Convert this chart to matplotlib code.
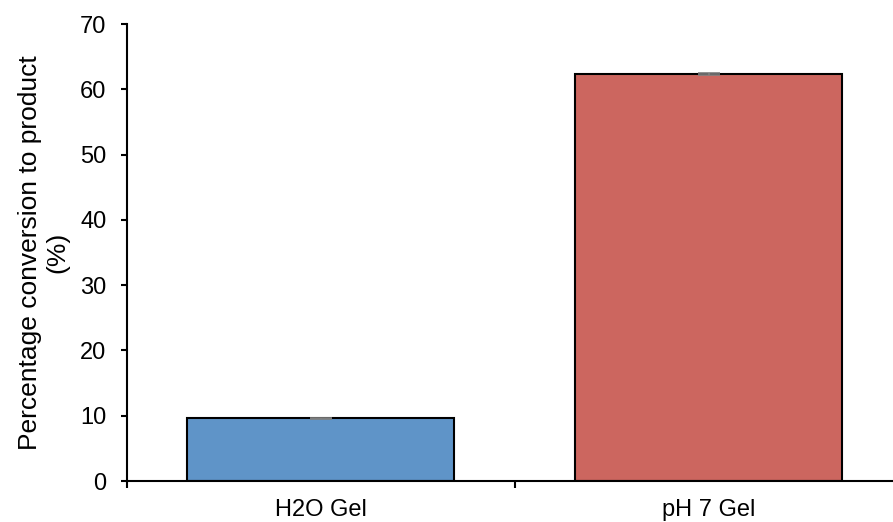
import matplotlib
matplotlib.use("Agg")
import matplotlib.pyplot as plt

categories = ["H2O Gel", "pH 7 Gel"]
conversion = [9.6, 62.3]
errors = [0.05, 0.15]
bar_colors = ["#5F94C8", "#CC665F"]

plt.rcParams["font.family"] = ["Liberation Sans", "DejaVu Sans"]

fig = plt.figure(figsize=(8.93, 5.22), dpi=100)
ax = fig.add_axes([126.5 / 893, 41 / 522, 776 / 893, 457 / 522])

x = range(len(categories))
ax.bar(x, conversion, width=0.69, color=bar_colors, edgecolor="black",
       linewidth=1.5, zorder=2)
ax.errorbar(x, conversion, yerr=errors, fmt="none", ecolor="#808080",
            elinewidth=1.2, capsize=8, capthick=1.2, zorder=3)

ax.set_xlim(-0.5, 1.5)
ax.set_ylim(0, 70)
ax.set_yticks(range(0, 71, 10))
ax.tick_params(axis="y", labelsize=17, length=4.5, width=1.5, direction="out", pad=10)

ax.set_xticks([-0.5, 0.5, 1.5])
ax.set_xticklabels([])
ax.tick_params(axis="x", length=5, width=1.5, direction="out")
ax.set_xticks(list(x), minor=True)
ax.set_xticklabels(categories, minor=True, fontsize=17)
ax.tick_params(axis="x", which="minor", length=0, pad=13)

for side in ("top", "right"):
    ax.spines[side].set_visible(False)
for side in ("left", "bottom"):
    ax.spines[side].set_linewidth(1.5)

ax.set_ylabel("Percentage conversion to product\n(%)", fontsize=19,
              linespacing=1.15, labelpad=8)

fig.savefig("out.png", dpi=100)
